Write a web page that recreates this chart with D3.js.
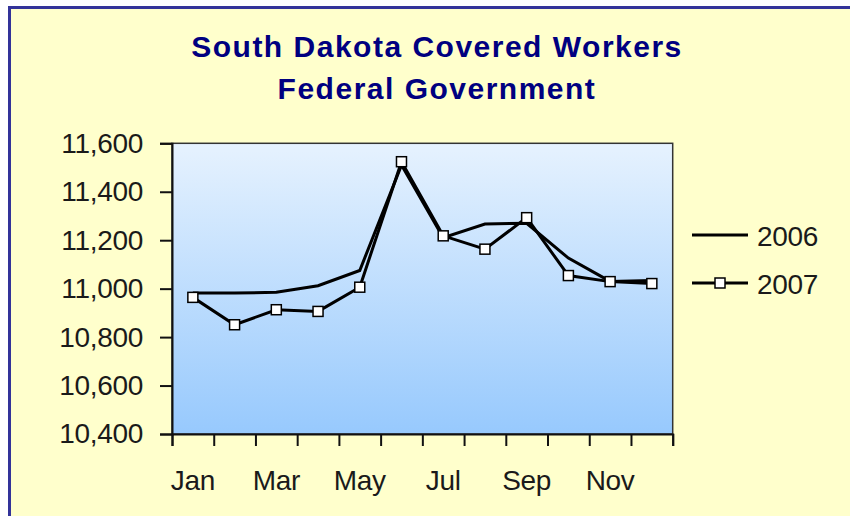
<!DOCTYPE html>
<html>
<head>
<meta charset="utf-8">
<script src="https://cdn.jsdelivr.net/npm/d3@7"></script>
<style>
  body { margin: 0; background: #fff; }
  text { font-family: "Liberation Sans", Arial, sans-serif; }
</style>
</head>
<body>
<div id="chart"></div>
<script>
// chart data
var months = ["Jan", "Feb", "Mar", "Apr", "May", "Jun", "Jul", "Aug", "Sep", "Oct", "Nov", "Dec"];
var values2006 = [10982, 10982, 10985, 11012, 11075, 11510, 11210, 11267, 11270, 11126, 11030, 11034];
var values2007 = [10964, 10851, 10913, 10906, 11006, 11524, 11218, 11163, 11293, 11054, 11029, 11021];
var yTicks = [10400, 10600, 10800, 11000, 11200, 11400, 11600];
var shownMonths = ["Jan", "Mar", "May", "Jul", "Sep", "Nov"];
var titleLines = ["South Dakota Covered Workers", "Federal Government"];

var svgWidth = 850;
var svgHeight = 516;
var plot = { left: 172, right: 672.7, top: 143.3, bottom: 434 };

var svg = d3.select("#chart")
    .append("svg")
    .attr("width", svgWidth)
    .attr("height", svgHeight);

// background + outer frame
svg.append("rect")
    .attr("x", 9.5).attr("y", 7.5)
    .attr("width", svgWidth + 20).attr("height", svgHeight + 20)
    .attr("fill", "#FFFFCC")
    .attr("stroke", "#333399")
    .attr("stroke-width", 3);

// gradient for plot area
var grad = svg.append("defs").append("linearGradient")
    .attr("id", "plotGrad")
    .attr("x1", 0).attr("y1", 0).attr("x2", 0).attr("y2", 1);
grad.append("stop").attr("offset", "0%").attr("stop-color", "#E6F2FE");
grad.append("stop").attr("offset", "100%").attr("stop-color", "#97C9FD");

// title
svg.selectAll(".title")
    .data(titleLines)
    .enter()
    .append("text")
    .attr("class", "title")
    .attr("x", 437)
    .attr("y", (d, i) => 57 + i * 42)
    .attr("text-anchor", "middle")
    .attr("fill", "#000080")
    .style("font-size", "30px")
    .style("font-weight", "bold")
    .style("letter-spacing", "1.5px")
    .text(d => d);

// scales
var x = d3.scaleBand()
    .domain(months)
    .range([plot.left, plot.right]);
var xEdge = d3.scaleLinear()
    .domain([0, months.length])
    .range([plot.left, plot.right]);
var y = d3.scaleLinear()
    .domain([10400, 11600])
    .range([plot.bottom, plot.top]);

// plot area
svg.append("rect")
    .attr("x", plot.left).attr("y", plot.top)
    .attr("width", plot.right - plot.left)
    .attr("height", plot.bottom - plot.top)
    .attr("fill", "url(#plotGrad)")
    .attr("stroke", "#333")
    .attr("stroke-width", 1.5);

// y axis
var yAxis = svg.append("g")
    .attr("transform", `translate(${plot.left}, 0)`)
    .call(d3.axisLeft(y).tickValues(yTicks).tickSize(12).tickPadding(17)
        .tickFormat(d3.format(",")));

// x axis tick marks at category edges
var xTickAxis = svg.append("g")
    .attr("transform", `translate(0, ${plot.bottom})`)
    .call(d3.axisBottom(xEdge).tickValues(d3.range(0, months.length + 1))
        .tickSize(12).tickFormat(""));

// x axis labels
var xLabelAxis = svg.append("g")
    .attr("transform", `translate(0, ${plot.bottom})`)
    .call(d3.axisBottom(x).tickSize(0).tickPadding(36)
        .tickFormat(d => shownMonths.indexOf(d) >= 0 ? d : ""));
xLabelAxis.select(".domain").remove();

[yAxis, xTickAxis].forEach(g => {
    g.select(".domain").attr("stroke", "#111").attr("stroke-width", 2);
    g.selectAll(".tick line").attr("stroke", "#111").attr("stroke-width", 2);
});
[yAxis, xLabelAxis].forEach(g => {
    g.selectAll(".tick text")
        .attr("fill", "#1a1a1a")
        .style("font-size", "28px")
        .style("letter-spacing", "-0.3px")
        .style("font-family", "'Liberation Sans', Arial, sans-serif");
});

// lines
var line = d3.line()
    .x((d, i) => x(months[i]) + x.bandwidth() / 2)
    .y(d => y(d));

svg.append("path")
    .datum(values2006)
    .attr("d", line)
    .attr("fill", "none")
    .attr("stroke", "#000")
    .attr("stroke-width", 3);

svg.append("path")
    .datum(values2007)
    .attr("d", line)
    .attr("fill", "none")
    .attr("stroke", "#000")
    .attr("stroke-width", 3);

var markerSize = 10;
svg.selectAll(".marker")
    .data(values2007)
    .enter()
    .append("rect")
    .attr("class", "marker")
    .attr("x", (d, i) => x(months[i]) + x.bandwidth() / 2 - markerSize / 2)
    .attr("y", d => y(d) - markerSize / 2)
    .attr("width", markerSize)
    .attr("height", markerSize)
    .attr("fill", "#fff")
    .attr("stroke", "#000")
    .attr("stroke-width", 1.5);

// legend
var legend = svg.append("g");
var legendItems = [{ name: "2006", y: 235, marker: false }, { name: "2007", y: 283, marker: true }];
legendItems.forEach(item => {
    legend.append("line")
        .attr("x1", 692).attr("x2", 748)
        .attr("y1", item.y).attr("y2", item.y)
        .attr("stroke", "#000")
        .attr("stroke-width", 3);
    if (item.marker) {
        legend.append("rect")
            .attr("x", 720 - markerSize / 2).attr("y", item.y - markerSize / 2)
            .attr("width", markerSize).attr("height", markerSize)
            .attr("fill", "#fff").attr("stroke", "#000").attr("stroke-width", 1.5);
    }
    legend.append("text")
        .attr("x", 757)
        .attr("y", item.y + 11)
        .attr("fill", "#1a1a1a")
        .style("font-size", "28px")
        .style("letter-spacing", "-0.3px")
        .text(item.name);
});
</script>
</body>
</html>
